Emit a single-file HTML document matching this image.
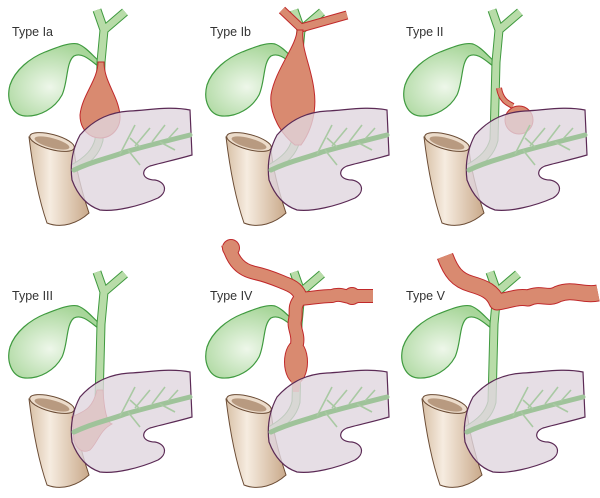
<!DOCTYPE html>
<html><head><meta charset="utf-8"><style>
html,body{margin:0;padding:0;background:#fff;}
svg{display:block}
text{font-family:"Liberation Sans",sans-serif;font-size:12.5px;fill:#333}
</style></head><body>
<svg width="600" height="498" viewBox="0 0 600 498" xmlns="http://www.w3.org/2000/svg">
<defs>
<radialGradient id="gb" cx="0.45" cy="0.6" r="0.6"><stop offset="0" stop-color="#eef7ea"/><stop offset="1" stop-color="#a8d69a"/></radialGradient>
<linearGradient id="du" x1="0" y1="0" x2="1" y2="0"><stop offset="0" stop-color="#d8c0a6"/><stop offset="0.35" stop-color="#f6ece0"/><stop offset="1" stop-color="#c9a98a"/></linearGradient>
<g id="base">
  <path d="M29,137 C33,170 39,200 47,223 C62,229 78,223 89,213 C82,192 76,170 74,149 Z" fill="url(#du)" stroke="#6b4c35" stroke-width="1"/>
  <ellipse cx="52" cy="142" rx="23" ry="7.5" transform="rotate(15 52 142)" fill="#ecdccb" stroke="#6b4c35" stroke-width="1"/>
  <ellipse cx="52" cy="143" rx="18" ry="4.8" transform="rotate(15 52 143)" fill="#b89a80"/>
  <path d="M100,62 C92,55 86,47 78,44 C70,42 58,47 45,52 C30,58 15,70 10,85 C6,100 12,115 25,116 C40,117 55,108 62,95 C68,82 66,62 74,56 C82,52 90,60 98,66 Z" fill="url(#gb)" stroke="#3f9a3f" stroke-width="1.2"/>
  <path d="M97,10 L104,30 L125,12 M104,30 L101,62 L99,140 C96,152 88,160 74,168" fill="none" stroke="#3f9a3f" stroke-width="9" stroke-linejoin="round"/>
  <path d="M97,10 L104,30 L125,12 M104,30 L101,62 L99,140 C96,152 88,160 74,168" fill="none" stroke="#b8dca8" stroke-width="7" stroke-linejoin="round"/>
</g>
<g id="panc">
  <path d="M80,135 C95,118 112,112 130,111 C150,110 170,106 190,110 L192,155 C175,160 160,163 150,166 C140,170 142,180 155,180 C166,182 168,192 158,198 C140,206 115,212 100,210 C88,206 78,196 72,180 C70,165 72,150 80,135 Z" fill="#e0d6de" fill-opacity="0.8" stroke="#5b2a55" stroke-width="1.2"/>
  <path d="M74,170 C95,160 110,158 125,152 C150,145 170,140 190,135" fill="none" stroke="#9fc39a" stroke-width="5" stroke-linecap="round"/>
  <path d="M120,154 L135,125 M135,146 L150,128 M152,142 L165,125 M168,139 L178,128 M128,150 L140,165 M160,142 L175,150 M140,147 L130,138" fill="none" stroke="#a9c9a3" stroke-width="1.6"/>
</g>
</defs>

<text x="12" y="36">Type Ia</text>
<text x="210" y="36">Type Ib</text>
<text x="406" y="36">Type II</text>
<text x="12" y="300">Type III</text>
<text x="210" y="300">Type IV</text>
<text x="406" y="300">Type V</text>

<g transform="translate(0,0)">
  <use href="#base"/>
  <path d="M98,62 C98,80 82,95 80,115 C80,130 90,138 100,138 C112,138 121,128 120,115 C118,95 104,82 104,62 Z" fill="#d98a70" stroke="#c0282a" stroke-width="1"/>
  <use href="#panc"/>
</g>
<g transform="translate(197,0)">
  <use href="#base"/>
  <path d="M85,10 L104,28 L150,15" fill="none" stroke="#c0282a" stroke-width="9"/>
  <path d="M85,10 L104,28 L150,15" fill="none" stroke="#d98a70" stroke-width="7"/>
  <path d="M100,30 C100,45 78,70 74,95 C72,115 85,135 98,145 L104,145 C115,130 120,110 117,90 C114,65 104,50 106,30 Z" fill="#d98a70" stroke="#c0282a" stroke-width="1"/>
  <use href="#panc"/>
</g>
<g transform="translate(395,0)">
  <use href="#base"/>
  <path d="M104,88 C106,100 112,103 118,106" fill="none" stroke="#c0282a" stroke-width="6"/>
  <path d="M104,88 C106,100 112,103 118,106" fill="none" stroke="#d98a70" stroke-width="4"/>
  <circle cx="124" cy="120" r="14" fill="#d98a70" stroke="#c0282a" stroke-width="1"/>
  <use href="#panc"/>
</g>
<g transform="translate(0,262)">
  <use href="#base"/>
  <path d="M97,128 L103,128 C104,145 106,160 112,162 C100,168 98,180 90,188 C82,192 76,186 74,178 L72,155 C80,150 92,150 97,128 Z" fill="#d98a70" stroke="#c0282a" stroke-width="0.8"/>
  <use href="#panc"/>
</g>
<g transform="translate(197,262)">
  <use href="#base"/>
  <path d="M31,-18 C36,0 44,8 58,11 C72,14 80,18 90,22 C100,26 104,32 103,37 M103,37 C115,36 125,34 135,34 C145,30 152,38 160,34 L176,34 M103,37 C96,45 100,50 98,58 C96,66 102,72 100,82" fill="none" stroke="#c0282a" stroke-width="14" stroke-linejoin="round"/>
  <circle cx="34" cy="-14" r="9" fill="#c0282a"/>
  <circle cx="155" cy="34" r="9" fill="#c0282a"/>
  <ellipse cx="99" cy="100" rx="12" ry="22" fill="#c0282a"/>
  <path d="M31,-18 C36,0 44,8 58,11 C72,14 80,18 90,22 C100,26 104,32 103,37 M103,37 C115,36 125,34 135,34 C145,30 152,38 160,34 L176,34 M103,37 C96,45 100,50 98,58 C96,66 102,72 100,82" fill="none" stroke="#d98a70" stroke-width="12" stroke-linejoin="round"/>
  <circle cx="34" cy="-14" r="8" fill="#d98a70"/>
  <circle cx="155" cy="34" r="8" fill="#d98a70"/>
  <ellipse cx="99" cy="100" rx="11" ry="21" fill="#d98a70"/>
  <path d="M94,118 L104,118 L102,130 L96,130 Z" fill="#d98a70"/>
  <use href="#panc"/>
</g>
<g transform="translate(393,262)">
  <use href="#base"/>
  <path d="M52,-6 C58,10 64,18 78,22 C92,26 100,30 104,40 C118,38 125,34 135,36 C148,30 155,38 165,32 C180,26 190,34 205,31" fill="none" stroke="#c0282a" stroke-width="17" stroke-linejoin="round"/>
  <path d="M52,-6 C58,10 64,18 78,22 C92,26 100,30 104,40 C118,38 125,34 135,36 C148,30 155,38 165,32 C180,26 190,34 205,31" fill="none" stroke="#d98a70" stroke-width="15" stroke-linejoin="round"/>
  <use href="#panc"/>
</g>
</svg>
</body></html>
